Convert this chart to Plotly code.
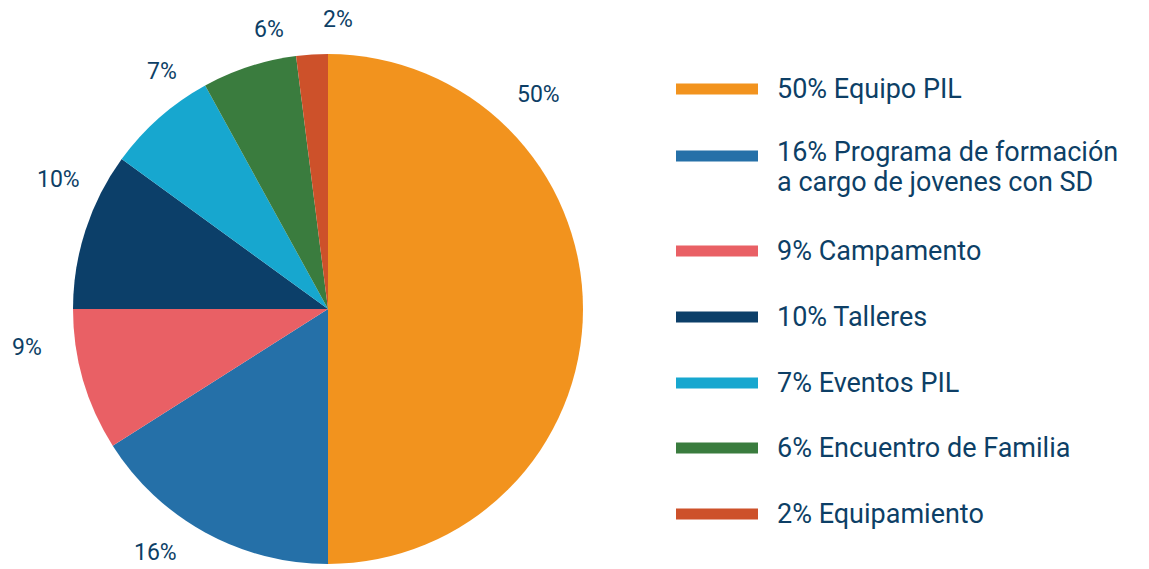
import plotly.graph_objects as go

# ---- data ----
categories = ["Equipo PIL", "Programa de formación<br>a cargo de jovenes con SD", "Campamento",
              "Talleres", "Eventos PIL", "Encuentro de Familia", "Equipamiento"]
values = [50, 16, 9, 10, 7, 6, 2]
colors = ["#f2931e", "#2570a8", "#e96065", "#0c3f69", "#17a7cf", "#3a7c3e", "#cd512a"]

# ---- layout helpers (pixel positions) ----
W, H = 1149, 569
TEXT = "#0d3f66"
FONT = "Roboto"
label_pos = [(538, 94), (155, 552), (27, 347), (58, 180), (162, 72), (269, 30), (338, 20)]
legend_y = [89, 156, 251, 317, 383, 448, 514]
line_gap = 30
pie_cx, pie_cy, pie_r = 328, 309, 255


def px(x):
    return x / W


def py(y):
    return 1 - y / H


fig = go.Figure()
fig.add_trace(go.Pie(
    values=values,
    labels=[c.replace("<br>", " ") for c in categories],
    marker=dict(colors=colors, line=dict(width=0)),
    sort=False,
    direction="clockwise",
    rotation=0,
    textinfo="none",
    hoverinfo="label+percent",
    showlegend=False,
    domain=dict(x=[px(pie_cx - pie_r), px(pie_cx + pie_r)],
                y=[py(pie_cy + pie_r), py(pie_cy - pie_r)]),
))

annotations = []
shapes = []
for v, (lx, ly) in zip(values, label_pos):
    annotations.append(dict(x=px(lx), y=py(ly), xref="paper", yref="paper",
                            text=f"{v}%", showarrow=False, xanchor="center", yanchor="middle",
                            font=dict(family=FONT, size=23, color=TEXT)))

for cat, v, col, yy in zip(categories, values, colors, legend_y):
    shapes.append(dict(type="rect", xref="paper", yref="paper",
                       x0=px(676), x1=px(758), y0=py(yy + 5.5), y1=py(yy - 5.5),
                       fillcolor=col, line=dict(width=0)))
    lines = cat.split("<br>")
    lines[0] = f"{v}% {lines[0]}"
    y0 = yy - 4 if len(lines) > 1 else yy
    for i, txt in enumerate(lines):
        annotations.append(dict(x=px(775), y=py(y0 + i * line_gap), xref="paper", yref="paper",
                                text=txt, showarrow=False, xanchor="left",
                                yanchor="middle", align="left",
                                font=dict(family=FONT, size=27, color=TEXT)))

fig.update_layout(
    width=W, height=H,
    margin=dict(l=0, r=0, t=0, b=0),
    paper_bgcolor="white", plot_bgcolor="white",
    annotations=annotations, shapes=shapes,
)

fig.write_html("out.html")
